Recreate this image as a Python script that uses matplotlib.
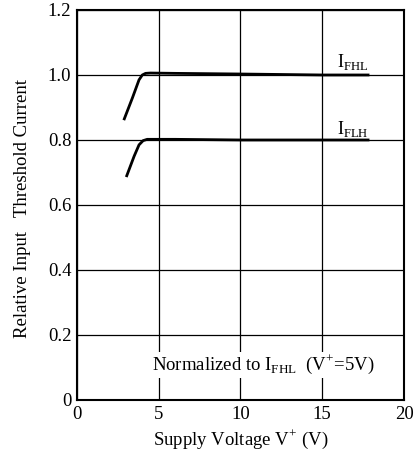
import matplotlib.pyplot as plt

plt.rcParams['font.family'] = ['Liberation Serif', 'DejaVu Serif']
plt.rcParams['mathtext.fontset'] = 'custom'
plt.rcParams['mathtext.rm'] = 'Liberation Serif'

# I_FHL curve
v_fhl = [2.9, 3.4, 3.8, 4.0, 4.2, 4.5, 6, 10, 15, 17.8]
i_fhl = [0.865, 0.93, 0.985, 1.0, 1.005, 1.006, 1.005, 1.003, 1.0, 1.0]

# I_FLH curve
v_flh = [3.05, 3.5, 3.8, 4.05, 4.3, 4.6, 6, 10, 15, 17.8]
i_flh = [0.69, 0.75, 0.785, 0.798, 0.802, 0.802, 0.802, 0.80, 0.80, 0.80]

xticks = [0, 5, 10, 15, 20]
yticks = [0, 0.2, 0.4, 0.6, 0.8, 1.0, 1.2]
ytick_labels = ['0', '0.2', '0.4', '0.6', '0.8', '1.0', '1.2']

fig = plt.figure(figsize=(4.2, 4.54), dpi=100)
ax = fig.add_axes([0.183, 0.119, 0.779, 0.859])

ax.plot(v_fhl, i_fhl, color='black', lw=2)
ax.plot(v_flh, i_flh, color='black', lw=2)

ax.set_xlim(0, 20)
ax.set_ylim(0, 1.2)
ax.set_xticks(xticks)
ax.set_yticks(yticks)
ax.set_yticklabels(ytick_labels)
ax.tick_params(length=0, labelsize=13.5, pad=4)
ax.grid(True, color='black', lw=0.9)
for s in ax.spines.values():
    s.set_linewidth(1.5)

ax.text(15.9, 1.04, r'I$_{\rm FHL}$', fontsize=13, va='center')
ax.text(15.9, 0.835, r'I$_{\rm FLH}$', fontsize=13, va='center')
ax.text(4.6, 0.108, r'Normalized to I$_{\rm FHL}$  (V$^{+}$=5V)', fontsize=13.5, va='center',
        bbox=dict(facecolor='white', edgecolor='none', pad=1))

ax.set_xlabel('Supply Voltage V$^{+}$ (V)', fontsize=13.5)
ax.set_ylabel('Relative Input   Threshold Current', fontsize=13.5)
ax.yaxis.set_label_coords(-0.14, 0.49)

fig.savefig('out.png', dpi=100)
